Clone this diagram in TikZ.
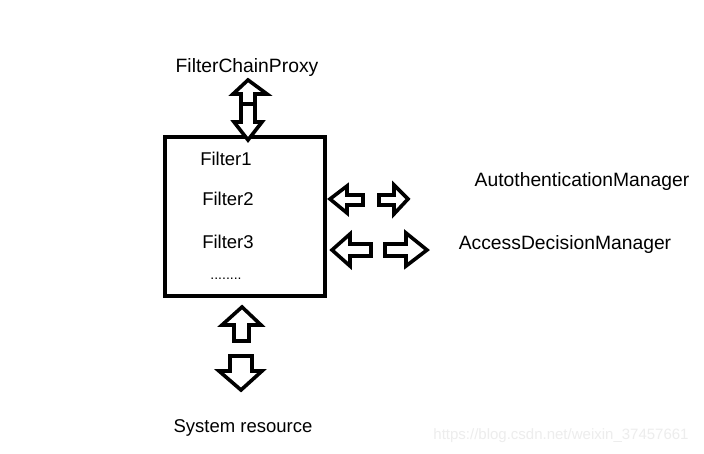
\documentclass[tikz,border=0pt]{standalone}
\usepackage{fontspec}
\setmainfont{Liberation Sans}
\begin{document}
\begin{tikzpicture}[x=1pt,y=-1pt,
  lbl/.style={inner sep=0pt,font=\fontsize{18.5}{20}\selectfont},
  biglbl/.style={inner sep=0pt,font=\fontsize{19.3}{21}\selectfont},
  blk/.style={draw=black,line width=3.6pt,line join=miter,fill=white},
  boxst/.style={draw=black,line width=4pt}]
\useasboundingbox (0,0) rectangle (704,454);
\fill[white] (0,0) rectangle (704,454);
% main box
\draw[boxst] (165,137) rectangle (325,296);
\node[lbl] (f1) at (226,159) {Filter1};
\node[lbl] (f2) at (228,199) {Filter2};
\node[lbl] (f3) at (228,242) {Filter3};
\node[inner sep=0pt,font=\fontsize{14}{15}\selectfont] (dots) at (226,279) {........};
% labels
\node[biglbl] (fcp) at (247,68) {FilterChainProxy};
\node[biglbl] (am) at (582,182) {AutothenticationManager};
\node[biglbl] (adm) at (565,245) {AccessDecisionManager};
\node[lbl] (sr) at (243,428) {System resource};
\node[inner sep=0pt,font=\fontsize{15}{17}\selectfont,text=black!7] (wm) at (561,436) {https://blog.csdn.net/weixin\_37457661};
% top double arrow
\draw[blk] (248,80) -- (267,94) -- (255,94) -- (255,104) -- (241,104) -- (241,94) -- (233,94) -- cycle;
\draw[blk] (241,104) -- (255,104) -- (255,122) -- (262,122) -- (248,140) -- (234,122) -- (241,122) -- cycle;
% row 1 arrows
\draw[blk] (330,199) -- (347,186) -- (347,195) -- (363,195) -- (363,205) -- (347,205) -- (347,213) -- cycle;
\draw[blk] (379,195) -- (394,195) -- (394,185) -- (408,199) -- (394,214) -- (394,205) -- (379,205) -- cycle;
% row 2 arrows
\draw[blk] (332,250) -- (350,234) -- (350,244) -- (371,244) -- (371,256) -- (350,256) -- (350,266) -- cycle;
\draw[blk] (385,244) -- (406,244) -- (406,233) -- (427,250) -- (406,266) -- (406,256) -- (385,256) -- cycle;
% bottom arrows
\draw[blk] (242,307) -- (261,325) -- (249,325) -- (249,341) -- (234,341) -- (234,325) -- (222,325) -- cycle;
\draw[blk] (230,356) -- (252,356) -- (252,371) -- (262,371) -- (241,390) -- (219,371) -- (230,371) -- cycle;
\end{tikzpicture}
\end{document}
